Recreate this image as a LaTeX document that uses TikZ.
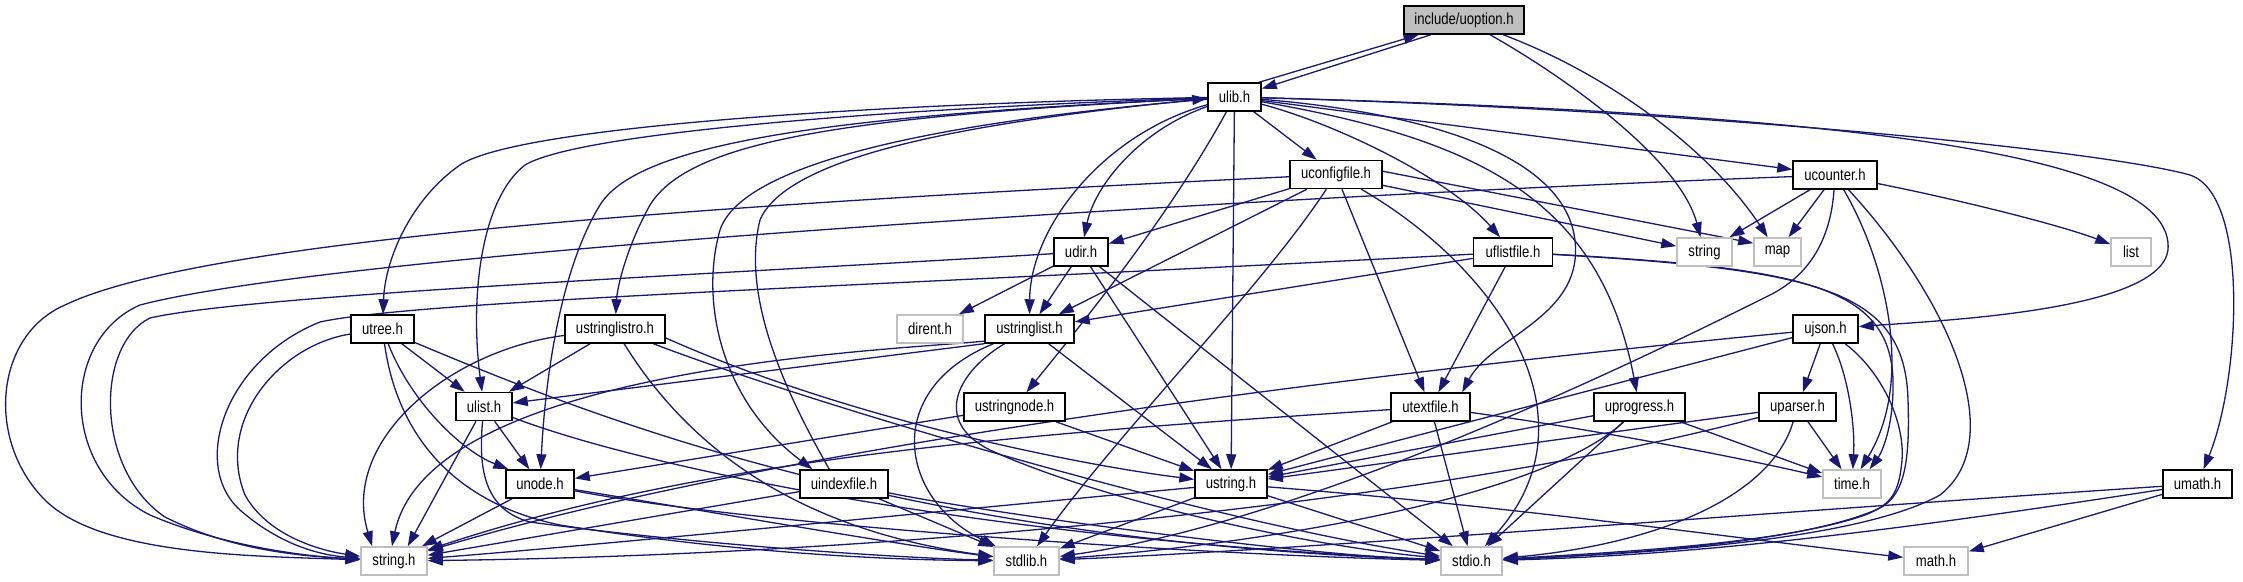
\documentclass[tikz,border=0pt]{standalone}
\usepackage{fontspec}
\newfontfamily\nodefont[FakeStretch=0.82]{Liberation Sans}
\usetikzlibrary{arrows.meta}
\definecolor{edgec}{HTML}{191970}
\definecolor{extgray}{HTML}{BFBFBF}
\definecolor{focusgray}{HTML}{BFBFBF}
\pgfdeclarelayer{edges}
\pgfsetlayers{edges,main}
\begin{document}
\begin{tikzpicture}[x=1pt,y=-1pt,
  hdr/.style={draw=black, line width=1.5pt, fill=white, minimum height=28pt, inner sep=0pt,
              font=\nodefont\fontsize{16pt}{18pt}\selectfont},
  sys/.style={hdr, draw=extgray},
  focus/.style={hdr, fill=focusgray},
  e/.style={draw=edgec, line width=1.3pt, -{Triangle[length=15pt,width=10pt]}}]
\useasboundingbox (0,0) rectangle (2243,581);

\node[focus, minimum width=120pt] (uoption) at (1464,20) {include/uoption.h};
\node[hdr, minimum width=53pt] (ulib) at (1234.5,97) {ulib.h};
\node[hdr, minimum width=92pt] (uconfig) at (1336,174.5) {uconfigfile.h};
\node[hdr, minimum width=84pt] (ucounter) at (1835,175) {ucounter.h};
\node[hdr, minimum width=54pt] (udir) at (1081,252) {udir.h};
\node[hdr, minimum width=79pt] (uflist) at (1513,252) {uflistfile.h};
\node[sys, minimum width=55pt] (str) at (1704.5,252) {string};
\node[sys, minimum width=47pt] (map) at (1777.5,252) {map};
\node[sys, minimum width=40pt] (list) at (2131,252) {list};
\node[hdr, minimum width=63pt] (utree) at (382.5,329) {utree.h};
\node[hdr, minimum width=100pt] (ustrlro) at (615,329) {ustringlistro.h};
\node[sys, minimum width=66pt] (dirent) at (930,329) {dirent.h};
\node[hdr, minimum width=89pt] (ustrlist) at (1029.5,329) {ustringlist.h};
\node[hdr, minimum width=65pt] (ujson) at (1825.5,329) {ujson.h};
\node[hdr, minimum width=56pt] (ulist) at (484,406.5) {ulist.h};
\node[hdr, minimum width=101pt] (ustrnode) at (1014.5,407) {ustringnode.h};
\node[hdr, minimum width=79pt] (utext) at (1430.5,407) {utextfile.h};
\node[hdr, minimum width=91pt] (uprog) at (1639.5,407) {uprogress.h};
\node[hdr, minimum width=77pt] (uparser) at (1797.5,407) {uparser.h};
\node[hdr, minimum width=68pt] (unode) at (540,484) {unode.h};
\node[hdr, minimum width=88pt] (uindex) at (844,484) {uindexfile.h};
\node[hdr, minimum width=72pt] (ustring) at (1231,484) {ustring.h};
\node[sys, minimum width=58pt] (timeh) at (1852,484) {time.h};
\node[hdr, minimum width=69pt] (umath) at (2197.5,484) {umath.h};
\node[sys, minimum width=66pt] (strh) at (394,561) {string.h};
\node[sys, minimum width=65pt] (stdlibh) at (1026.5,561) {stdlib.h};
\node[sys, minimum width=61pt] (stdioh) at (1471.5,561) {stdio.h};
\node[sys, minimum width=64pt] (mathh) at (1936,561) {math.h};

\begin{pgfonlayer}{edges}
\fill[white] (0,0) rectangle (2243,581);
% uoption
\draw[e] (uoption.204) -- (ulib.17);
\draw[e] (ulib.31) -- (uoption.198);
\draw[e] (uoption) .. controls (1570,80) and (1680,160) .. (str);
\draw[e] (uoption) .. controls (1610,75) and (1710,150) .. (map);
% ulib
\draw[e] (ulib) -- (uconfig);
\draw[e] (ulib) .. controls (1140,130) and (1095,185) .. (udir);
\draw[e] (ulib) -- (ucounter);
\draw[e] (ulib) .. controls (1340,125) and (1450,180) .. (uflist);
\draw[e] (ulib) .. controls (1900,115) and (2175,160) .. (2168,250) .. controls (2160,310) and (1950,320) .. (ujson);
\draw[e] (ulib) .. controls (1700,110) and (2100,150) .. (2190,175) .. controls (2250,195) and (2240,380) .. (umath);
\draw[e] (ulib) .. controls (1100,135) and (1030,230) .. (ustrlist);
\draw[e] (ulib) -- (ustring);
\draw[e] (ulib) .. controls (1170,215) and (1085,320) .. (ustrnode);
\draw[e] (ulib) .. controls (1450,115) and (1585,165) .. (1575,260) .. controls (1568,320) and (1490,340) .. (utext.25);
\draw[e] (ulib) .. controls (1480,140) and (1600,200) .. (uprog);
\draw[e] (ulib) .. controls (900,103) and (520,125) .. (460,165) .. controls (410,200) and (385,260) .. (utree);
\draw[e] (ulib) .. controls (900,108) and (580,132) .. (525,165) .. controls (480,200) and (470,300) .. (ulist);
\draw[e] (ulib) .. controls (850,115) and (640,140) .. (600,205) .. controls (560,270) and (545,380) .. (unode);
\draw[e] (ulib) .. controls (850,116) and (690,140) .. (650,205) .. controls (625,250) and (617,290) .. (ustrlro);
\draw[e] (ulib) .. controls (900,125) and (740,170) .. (720,230) .. controls (700,300) and (720,400) .. (uindex.155);
\draw[e] (uindex.135) .. controls (790,400) and (740,300) .. (760,220) .. controls (790,150) and (1000,120) .. (ulib.183);
% uconfigfile
\draw[e] (uconfig) -- (udir);
\draw[e] (uconfig) -- (ustrlist);
\draw[e] (uconfig) .. controls (1260,290) and (1120,430) .. (stdlibh);
\draw[e] (uconfig) -- (utext);
\draw[e] (uconfig) .. controls (1500,270) and (1600,420) .. (stdioh);
\draw[e] (uconfig.4) -- (map.160);
\draw[e] (uconfig.-13) -- (str);
\draw[e] (uconfig) .. controls (700,205) and (200,240) .. (65,305) .. controls (-5,335) and (-15,440) .. (45,500) .. controls (100,555) and (250,556) .. (strh);
% ucounter
\draw[e] (ucounter) .. controls (1300,195) and (350,250) .. (140,305) .. controls (60,340) and (60,470) .. (150,515) .. controls (220,545) and (300,556) .. (strh);
\draw[e] (ucounter) -- (str);
\draw[e] (ucounter) -- (map);
\draw[e] (ucounter) .. controls (1960,200) and (2060,225) .. (list);
\draw[e] (ucounter) .. controls (1885,260) and (1915,380) .. (timeh.60);
\draw[e] (ucounter) .. controls (1950,300) and (2010,440) .. (1940,495) .. controls (1850,545) and (1600,555) .. (stdioh);
\draw[e] (ucounter) .. controls (1830,250) and (1800,280) .. (1770,295) .. controls (1500,430) and (1250,530) .. (stdlibh);
% udir
\draw[e] (udir) -- (dirent);
\draw[e] (udir) -- (ustrlist);
\draw[e] (udir) -- (ustring);
\draw[e] (udir) -- (stdioh);
\draw[e] (udir) .. controls (700,275) and (250,295) .. (150,318) .. controls (95,345) and (95,470) .. (165,517) .. controls (230,550) and (300,556) .. (strh);
% uflistfile
\draw[e] (uflist) -- (ustrlist);
\draw[e] (uflist) -- (utext);
\draw[e] (uflist) .. controls (1800,268) and (1890,285) .. (1893,380) .. controls (1894,430) and (1880,455) .. (timeh.40);
\draw[e] (uflist) .. controls (1820,270) and (1905,290) .. (1908,400) .. controls (1910,460) and (1905,495) .. (1880,508) .. controls (1800,545) and (1600,555) .. (stdioh);
\draw[e] (uflist) .. controls (900,285) and (420,300) .. (320,322) .. controls (225,360) and (190,465) .. (240,510) .. controls (280,545) and (320,555) .. (strh);
% utree
\draw[e] (utree) -- (ulist);
\draw[e] (utree) .. controls (410,400) and (460,450) .. (unode.155);
\draw[e] (utree) .. controls (395,420) and (440,500) .. (560,525) .. controls (750,555) and (900,560) .. (stdlibh);
\draw[e] (utree) .. controls (600,420) and (900,540) .. (stdioh);
\draw[e] (utree) .. controls (280,345) and (215,420) .. (245,495) .. controls (270,540) and (330,552) .. (strh);
% ulist
\draw[e] (ulist) -- (unode);
\draw[e] (ulist) -- (strh.47);
\draw[e] (ulist) .. controls (478,470) and (485,510) .. (530,522) .. controls (700,545) and (900,558) .. (stdlibh);
\draw[e] (ulist) .. controls (650,470) and (1000,540) .. (stdioh);
% ustringlistro
\draw[e] (ustrlro) -- (ulist);
\draw[e] (ustrlro) .. controls (450,350) and (340,440) .. (strh.146);
\draw[e] (ustrlro) .. controls (690,450) and (800,530) .. (stdlibh);
\draw[e] (ustrlro) .. controls (800,400) and (1200,520) .. (stdioh);
\draw[e] (ustrlro.-10) .. controls (850,420) and (1080,465) .. (ustring);
% ustringlist
\draw[e] (ustrlist.198) -- (ulist);
\draw[e] (ustrlist.195) .. controls (900,350) and (430,365) .. (strh.98);
\draw[e] (ustrlist) .. controls (880,390) and (900,500) .. (stdlibh);
\draw[e] (ustrlist) .. controls (960,370) and (930,420) .. (990,450) .. controls (1100,500) and (1300,545) .. (stdioh);
\draw[e] (ustrlist) -- (ustring);
% ustringnode
\draw[e] (ustrnode) -- (unode);
\draw[e] (ustrnode) -- (ustring);
% unode
\draw[e] (unode) -- (strh);
\draw[e] (unode) .. controls (700,510) and (900,545) .. (stdlibh);
\draw[e] (unode) .. controls (750,525) and (1200,555) .. (stdioh);
% uindexfile
\draw[e] (uindex) -- (strh);
\draw[e] (uindex) -- (stdlibh);
\draw[e] (uindex) .. controls (1000,515) and (1300,555) .. (stdioh);
% ustring
\draw[e] (ustring) .. controls (900,515) and (600,545) .. (strh);
\draw[e] (ustring) -- (stdlibh);
\draw[e] (ustring) -- (stdioh);
\draw[e] (ustring) .. controls (1500,505) and (1750,540) .. (mathh);
% utextfile
\draw[e] (utext) -- (ustring);
\draw[e] (utext) .. controls (1000,435) and (700,460) .. (strh);
\draw[e] (utext) -- (stdioh);
\draw[e] (utext) .. controls (1600,430) and (1750,460) .. (timeh);
% uprogress
\draw[e] (uprog) -- (ustring);
\draw[e] (uprog) .. controls (1540,500) and (1250,545) .. (stdlibh);
\draw[e] (uprog) -- (stdioh);
\draw[e] (uprog) -- (timeh);
% uparser
\draw[e] (uparser) -- (ustring);
\draw[e] (uparser) .. controls (1450,500) and (900,555) .. (strh);
\draw[e] (uparser) .. controls (1770,500) and (1650,545) .. (stdioh);
\draw[e] (uparser) -- (timeh);
% ujson
\draw[e] (ujson) -- (uparser);
\draw[e] (ujson) .. controls (1850,380) and (1855,430) .. (timeh);
\draw[e] (ujson) -- (ustring);
\draw[e] (ujson) .. controls (1400,370) and (800,440) .. (strh);
\draw[e] (ujson) .. controls (1880,370) and (1905,420) .. (1902,460) .. controls (1899,495) and (1890,505) .. (1865,515) .. controls (1780,545) and (1600,553) .. (stdioh);
% umath
\draw[e] (umath) -- (mathh);
\draw[e] (umath) .. controls (1800,510) and (1300,550) .. (stdlibh);
\draw[e] (umath) .. controls (1900,530) and (1700,555) .. (stdioh);
\end{pgfonlayer}
\end{tikzpicture}
\end{document}
